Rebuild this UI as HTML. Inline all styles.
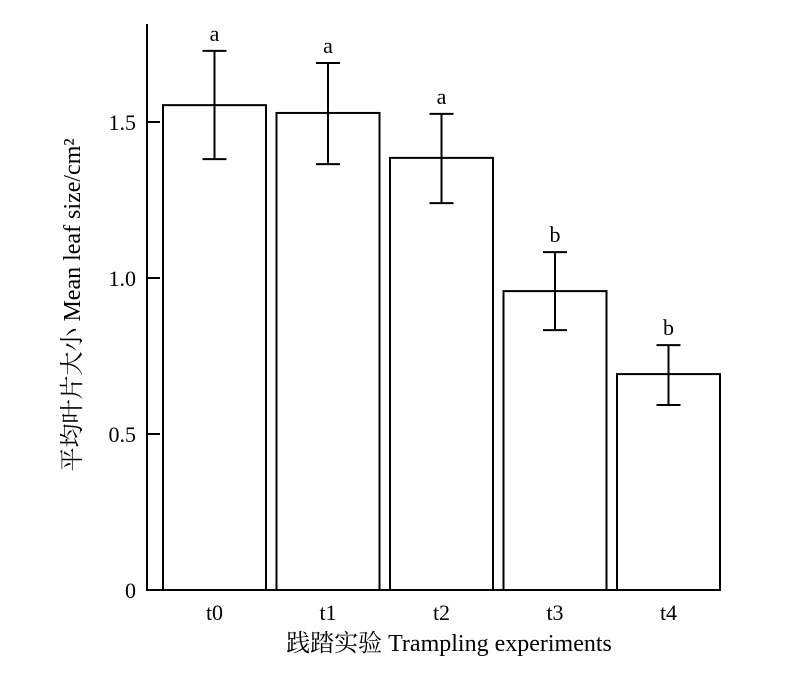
<!DOCTYPE html>
<html><head><meta charset="utf-8"><style>
body{margin:0;background:#fff;}
svg text{font-family:"Liberation Serif","Noto Serif CJK SC",serif;fill:#000;}
</style></head><body>
<svg id="chart" width="800" height="677" xmlns="http://www.w3.org/2000/svg">
<g id="g"></g>
</svg>
<script>
const categories=["t0","t1","t2","t3","t4"];
const means=[1.554,1.529,1.385,0.958,0.692];
const errHigh=[1.728,1.689,1.526,1.083,0.785];
const errLow=[1.381,1.365,1.240,0.833,0.593];
const letters=["a","a","a","b","b"];
const yTicks=[0,0.5,1.0,1.5];
const yTickLabels=["0","0.5","1.0","1.5"];

const NS="http://www.w3.org/2000/svg";
const g=document.getElementById("g");
const y=v=>590-v*312;
const x0=163,step=113.5,bw=103;
const bx=i=>x0+i*step;
function mk(t,a,parent){const e=document.createElementNS(NS,t);for(const k in a)e.setAttribute(k,a[k]);(parent||g).appendChild(e);return e;}
const st={stroke:"#000","stroke-width":2,fill:"none"};

const ax=mk("line",Object.assign({x1:147,y1:24,x2:147,y2:591},st));


const bl=mk("line",Object.assign({x1:146,y1:590,x2:720,y2:590},st));



yTicks.forEach((v,i)=>{
  const t=mk("line",Object.assign({x1:147,y1:y(v),x2:160,y2:y(v)},st));
  
  
  const l=mk("text",{x:136,y:y(v)+8,"text-anchor":"end","font-size":22});
  l.textContent=yTickLabels[i];
  
  
});

categories.forEach((c,i)=>{
  const r=mk("rect",Object.assign({x:bx(i),y:y(means[i]),width:bw,height:590-y(means[i])},st));
  
  
  const cx=bx(i)+bw/2;
  const e=mk("path",Object.assign({d:`M${cx},${y(errHigh[i])}V${y(errLow[i])}M${cx-12},${y(errHigh[i])}H${cx+12}M${cx-12},${y(errLow[i])}H${cx+12}`},st));
  
  
  const lt=mk("text",{x:cx,y:y(errHigh[i])-10,"text-anchor":"middle","font-size":22});
  lt.textContent=letters[i];
  
  
  const xl=mk("text",{x:cx,y:620,"text-anchor":"middle","font-size":22});
  xl.textContent=c;
  
  
});
</script>
<svg style="position:absolute;left:0;top:0" width="800" height="677" xmlns="http://www.w3.org/2000/svg">
<text x="449" y="651" text-anchor="middle" font-size="24">践踏实验 Trampling experiments</text>
<text transform="translate(80,305) rotate(-90)" text-anchor="middle" font-size="24">平均叶片大小 Mean leaf size/cm²</text>
</svg>
</body></html>
